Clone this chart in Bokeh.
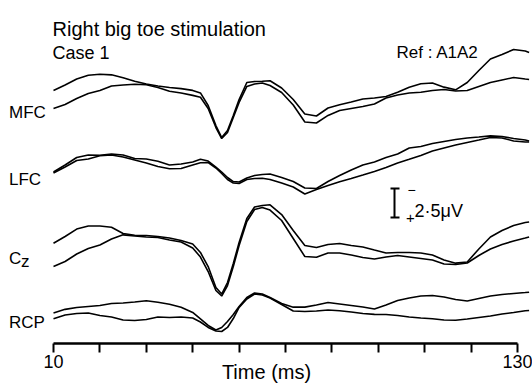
from bokeh.plotting import figure
from bokeh.models import Range1d, FixedTicker, LinearAxis
from bokeh.core.properties import value
from bokeh.embed import file_html
from bokeh.resources import INLINE

# ---------------- data (time in ms, potentials in microvolts, negative up) ----------------
T = [10, 13, 16, 19, 22, 25, 28, 31, 34, 37, 40, 43, 46,
     48, 50, 52, 53.5, 55, 56.5, 58, 60, 62, 64, 66,
     69, 72, 75, 78, 81, 84, 87, 90, 93, 96, 99, 102, 105, 108, 111, 114, 117, 120, 123, 126, 129, 132, 133]

MFC_1 = [-1.12, -1.59, -2.11, -2.44, -2.52, -2.47, -2.22, -1.91, -1.68, -1.51, -1.38, -1.28, -1.13,
         -0.91, 0.17, 1.90, 2.93, 2.33, 1.03, -0.34, -1.81, -1.90, -1.92, -1.96,
         -1.34, -0.34, 0.91, 1.08, 0.39, 0.11, -0.13, -0.39, -0.47, -0.60, -0.97, -1.41, -1.70, -1.77,
         -1.41, -1.18, -1.81, -2.84, -3.84, -4.22, -4.66, -4.53, -4.40]
MFC_2 = [0.43, 0.09, -0.43, -0.86, -1.12, -1.51, -1.59, -1.66, -1.61, -1.38, -1.05, -0.91, -0.70,
         -0.54, 0.43, 2.07, 3.02, 2.50, 1.21, -0.09, -1.47, -1.68, -1.77, -1.55,
         -0.95, 0.13, 1.59, 1.68, 1.03, 0.60, 0.43, 0.26, 0.04, -0.47, -0.73, -0.91, -0.97, -1.12,
         -1.21, -1.08, -1.12, -1.47, -1.81, -2.03, -2.24, -2.11, -2.07]
LFC_1 = [-0.04, -0.65, -1.29, -1.51, -1.49, -1.59, -1.51, -1.21, -1.16, -0.97, -0.65, -0.73, -0.91,
         -1.14, -0.99, -0.47, -0.04, 0.43, 0.78, 0.82, 0.47, 0.26, 0.17, 0.13,
         0.43, 0.78, 1.34, 1.38, 0.78, 0.26, -0.22, -0.65, -0.91, -1.29, -1.59, -2.11, -2.24, -2.50,
         -2.67, -2.84, -2.97, -3.06, -3.16, -3.10, -2.93, -2.80, -2.72]
LFC_2 = [0.04, -0.47, -1.03, -1.16, -1.44, -1.51, -1.34, -1.08, -0.82, -0.52, -0.32, -0.34, -0.65,
         -0.84, -0.86, -0.39, 0.09, 0.60, 0.91, 0.95, 0.60, 0.52, 0.49, 0.60,
         0.91, 1.25, 1.85, 1.47, 1.12, 0.80, 0.52, 0.22, -0.09, -0.43, -0.82, -1.14, -1.47, -1.85,
         -2.11, -2.37, -2.59, -2.80, -3.02, -2.97, -2.72, -2.63, -2.63]
CZ_1 = [-0.37, -0.95, -1.59, -1.85, -1.85, -1.74, -1.21, -1.06, -1.03, -0.95, -0.82, -0.60, -0.30,
        0.43, 1.64, 3.45, 4.01, 3.02, 1.38, -0.43, -2.50, -3.49, -3.62, -3.68,
        -2.84, -1.47, -0.17, 0.00, -0.26, -0.34, -0.17, -0.04, 0.22, 0.47, 0.43, 0.43, 0.47, 0.65,
        1.08, 1.35, 1.25, 0.13, -0.91, -1.47, -1.90, -2.16, -2.20]
CZ_2 = [1.64, 1.21, 0.56, 0.09, -0.22, -0.73, -1.09, -0.99, -0.91, -0.86, -0.65, -0.47, 0.04,
        0.82, 2.07, 3.71, 4.18, 3.28, 1.64, -0.17, -2.24, -3.28, -3.45, -3.23,
        -2.33, -0.78, 0.78, 0.84, 0.47, 0.47, 0.65, 0.86, 0.99, 0.82, 0.69, 0.82, 0.95, 1.08,
        1.42, 1.47, 1.34, 0.69, 0.13, -0.26, -0.56, -0.82, -0.91]
RCP_1 = [-0.22, -0.53, -0.69, -0.78, -0.86, -1.03, -1.08, -1.16, -1.27, -1.14, -0.97, -0.71, -0.26,
         0.30, 0.86, 1.25, 1.03, 0.52, -0.09, -0.78, -1.55, -1.94, -1.85, -1.55,
         -1.03, -0.72, -0.72, -0.91, -1.12, -0.99, -0.86, -0.73, -0.56, -0.91, -1.29, -1.51, -1.68, -1.72,
         -1.59, -1.38, -1.25, -1.47, -1.68, -1.81, -1.90, -1.98, -2.01]
RCP_2 = [0.28, -0.04, -0.17, -0.22, 0.00, 0.13, 0.39, 0.43, 0.34, 0.13, 0.17, 0.13, 0.22,
         0.56, 1.03, 1.34, 1.38, 1.03, 0.26, -0.69, -1.42, -1.85, -1.77, -1.51,
         -0.95, -0.39, -0.34, -0.39, -0.47, -0.41, -0.30, -0.17, -0.10, -0.09, 0.00, 0.13, 0.22, 0.28,
         0.39, 0.41, 0.30, 0.17, 0.04, -0.13, -0.26, -0.41, -0.43]

CHANNELS = ["MFC", "LFC", "C", "RCP"]
X_TICKS = [10, 22, 34, 46, 58, 70, 82, 94, 106, 118, 130]
X_TICK_LABELS = ["10", "", "", "", "", "", "", "", "", "", "130"]
SCALE_UV = 2.5
TITLE = "Right big toe stimulation"
SUBTITLE = "Case 1"
REF_TEXT = "Ref : A1A2"

# ---------------- layout ----------------
FRAME_W, FRAME_H = 532, 343
PX_PER_MS = 464 / 120.0
PX_PER_UV = 11.6
FONT = "Liberation Sans"


def rx(xp):
    return 10 + (xp - 53) / PX_PER_MS


def ry(yp):
    return yp / PX_PER_UV


p = figure(width=532, height=388, frame_width=FRAME_W, frame_height=FRAME_H,
           output_backend="svg", toolbar_location=None,
           x_range=Range1d(rx(0), rx(FRAME_W)),
           y_range=Range1d(ry(FRAME_H), 0),
           x_axis_location=None, y_axis_location=None,
           min_border=0, outline_line_color=None,
           background_fill_color="white", border_fill_color="white")
p.grid.visible = False

xaxis = LinearAxis(ticker=FixedTicker(ticks=X_TICKS), bounds=(10, 130),
                   axis_label="Time (ms)")
xaxis.major_label_overrides = {t: l for t, l in zip(X_TICKS, X_TICK_LABELS)}
xaxis.axis_line_width = 2.5
xaxis.axis_line_color = "black"
xaxis.major_tick_line_width = 2
xaxis.major_tick_line_color = "black"
xaxis.major_tick_out = 9
xaxis.major_tick_in = 0
xaxis.minor_tick_out = 0
xaxis.minor_tick_in = 0
xaxis.major_label_standoff = 2
xaxis.major_label_text_font = FONT
xaxis.major_label_text_font_size = "18px"
xaxis.major_label_text_color = "black"
xaxis.axis_label_text_font = FONT
xaxis.axis_label_text_font_size = "20px"
xaxis.axis_label_text_font_style = "normal"
xaxis.axis_label_text_color = "black"
xaxis.axis_label_standoff = -10
p.add_layout(xaxis, "below")

# traces
offsets = [ry(103), ry(172), ry(247), ry(315)]
series = [(MFC_1, MFC_2), (LFC_1, LFC_2), (CZ_1, CZ_2), (RCP_1, RCP_2)]
for off, pair in zip(offsets, series):
    for vals in pair:
        p.line(T, [off + v for v in vals], line_color="black", line_width=1.6)


def txt(xp, yp, s, size, align="left", baseline="alphabetic"):
    p.text(x=[rx(xp)], y=[ry(yp)], text=[s], text_font=value(FONT),
           text_font_size=size, text_color="black", text_align=align,
           text_baseline=baseline)


txt(52, 28.5, TITLE, "20px")
txt(52, 52.5, SUBTITLE, "18px")
txt(396, 51.5, REF_TEXT, "17px")
label_base = [111.5, 178.5, 257.5, 322]
for name, yb in zip(CHANNELS, label_base):
    txt(8.5, yb, name, "17px")
txt(20.5, 261, "z", "17px")

# scale bar
bx = rx(394)
top = ry(188)
bot = top + SCALE_UV
p.segment(x0=[bx, rx(390), rx(390)], y0=[top, top, bot],
          x1=[bx, rx(399), rx(399)], y1=[bot, top, bot],
          line_color="black", line_width=2)
txt(411, 189, "\u2212", "14px", align="center", baseline="middle")
txt(410, 217.5, "+", "15px", align="center", baseline="middle")
txt(414, 210, "2\u00b75\u03bcV", "18px")

open("out.html", "w").write(file_html(p, INLINE))
